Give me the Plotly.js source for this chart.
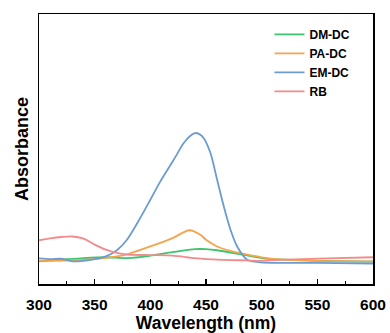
<!DOCTYPE html>
<html><head><meta charset="utf-8">
<script src="https://cdn.plot.ly/plotly-3.0.1.min.js"></script>
<style>html,body{margin:0;padding:0;background:#fff}#chart{width:390px;height:333px}</style>
</head><body><div id="chart"></div>
<script>
const seriesNames = ["DM-DC", "PA-DC", "EM-DC", "RB"];
const seriesColors = ["#3ec46d", "#f5a44a", "#6c9bd2", "#f28b8b"];

const dmX = [300,320,340,360,380,400,420,440,450,460,480,500,520,550,600];
const dmY = [0.084,0.090,0.096,0.099,0.096,0.105,0.118,0.129,0.129,0.125,0.111,0.096,0.090,0.086,0.083];

const paX = [300,330,350,370,380,400,420,435,445,450,460,470,480,500,520,550,600];
const paY = [0.086,0.088,0.092,0.102,0.111,0.139,0.170,0.199,0.182,0.164,0.139,0.125,0.115,0.099,0.090,0.086,0.084];

const emX = [300,310,320,330,340,350,360,370,379,390,400,409,421,430,436,440,444,448,454,460,466,472,478,487,499,520,550,600];
const emY = [0.095,0.092,0.094,0.084,0.086,0.092,0.102,0.125,0.164,0.238,0.312,0.380,0.460,0.522,0.549,0.559,0.555,0.540,0.485,0.386,0.287,0.201,0.139,0.090,0.080,0.078,0.078,0.076];

const rbX = [300,310,320,330,340,350,360,370,380,400,420,440,460,480,500,520,550,600];
const rbY = [0.162,0.169,0.174,0.176,0.168,0.146,0.127,0.115,0.109,0.107,0.105,0.096,0.090,0.088,0.086,0.090,0.094,0.099];

const xTicks = [300,350,400,450,500,550,600];
const xTickLabels = ["300","350","400","450","500","550","600"];

const xs = [dmX, paX, emX, rbX];
const ys = [dmY, paY, emY, rbY];

const traces = seriesNames.map((n, i) => ({
  x: xs[i], y: ys[i], name: n, type: "scatter", mode: "lines",
  line: {color: seriesColors[i], width: 1.8, shape: "spline", smoothing: 0.8}
}));

const layout = {
  width: 390, height: 333,
  margin: {l: 39, r: 17, t: 14, b: 49},
  paper_bgcolor: "#fff", plot_bgcolor: "#fff",
  font: {family: "Arial, Liberation Sans, sans-serif", color: "#000"},
  showlegend: true,
  legend: {x: 0.69, y: 0.978, xanchor: "left", yanchor: "top", bgcolor: "rgba(0,0,0,0)",
           font: {size: 12, family: "Arial, Liberation Sans, sans-serif", weight: "bold"}, tracegroupgap: 0},
  xaxis: {
    range: [300, 600], tickvals: xTicks, ticktext: xTickLabels,
    ticks: "inside", ticklen: 5, tickwidth: 1.5, tickcolor: "#000", ticklabelstandoff: 6,
    minor: {dtick: 25, tick0: 300, ticks: "inside", ticklen: 3, tickwidth: 1, tickcolor: "#000"},
    showline: true, linecolor: "#000", linewidth: 1.5, mirror: true, showgrid: false, zeroline: false,
    tickfont: {size: 15.5, weight: "bold"},
    title: {text: "Wavelength (nm)", font: {size: 17.5, weight: "bold"}, standoff: 3}
  },
  yaxis: {
    range: [0, 1], showticklabels: false, ticks: "",
    showline: true, linecolor: "#000", linewidth: 1.5, mirror: true, showgrid: false, zeroline: false,
    title: {text: "Absorbance", font: {size: 18, weight: "bold"}, standoff: 4}
  }
};
Plotly.newPlot("chart", traces, layout, {staticPlot: true, displayModeBar: false});
</script></body></html>
